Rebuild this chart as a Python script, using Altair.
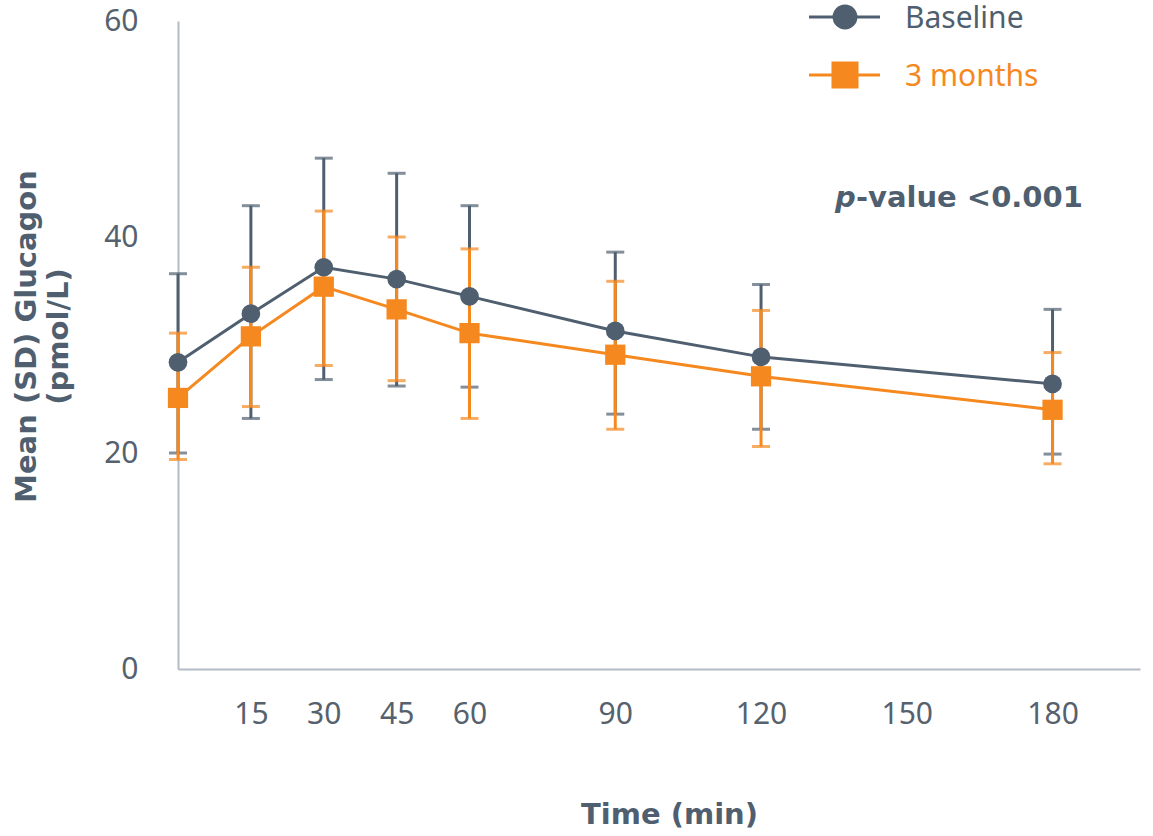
import altair as alt
import pandas as pd

# ---- data ----
time_min = [0, 15, 30, 45, 60, 90, 120, 180]
series_names = ["Baseline", "3 months"]
series_colors = ["#4f5f6f", "#f5891f"]

baseline_mean = [28.4, 32.9, 37.2, 36.1, 34.5, 31.3, 28.9, 26.4]
baseline_lo = [20.0, 23.2, 26.8, 26.2, 26.1, 23.6, 22.2, 19.9]
baseline_hi = [36.6, 42.9, 47.3, 45.9, 42.9, 38.6, 35.6, 33.3]

month3_mean = [25.1, 30.8, 35.4, 33.3, 31.1, 29.1, 27.1, 24.0]
month3_lo = [19.4, 24.3, 28.1, 26.7, 23.2, 22.2, 20.6, 19.0]
month3_hi = [31.1, 37.2, 42.4, 40.0, 38.9, 35.9, 33.2, 29.3]

x_ticks = [15, 30, 45, 60, 90, 120, 150, 180]
y_ticks = [0, 20, 40, 60]
x_title = "Time (min)"
y_title = ["Mean (SD) Glucagon", "(pmol/L)"]
p_italic = "p"
p_rest = "-value <0.001"

rows = []
for name, means, los, his in [
    ("Baseline", baseline_mean, baseline_lo, baseline_hi),
    ("3 months", month3_mean, month3_lo, month3_hi),
]:
    for t, m, lo, hi in zip(time_min, means, los, his):
        rows.append({"series": name, "time": t, "mean": m, "lo": lo, "hi": hi})
df = pd.DataFrame(rows)

legend_df = pd.DataFrame({"series": series_names})

LABEL_FONT = "Noto Sans"
BOLD_FONT = "DejaVu Sans"
TEXT_COLOR = "#4f5f6f"

x_scale = alt.Scale(domain=[0, 198], nice=False, zero=True)
y_scale = alt.Scale(domain=[0, 60], nice=False)
color_scale = alt.Scale(domain=series_names, range=series_colors)

x_axis = alt.Axis(
    values=x_ticks, title=x_title, labelPadding=30, titleX=491, titleY=145,
    titleBaseline="middle", titleAnchor="middle",
)
y_axis = alt.Axis(
    values=y_ticks, title=y_title, labelPadding=40, titleX=-152, titleY=315,
    titleAngle=270, titleBaseline="middle", titleAlign="center", titleLineHeight=32,
)

X = alt.X("time:Q", scale=x_scale, axis=x_axis)
C = alt.Color("series:N", scale=color_scale, legend=None)

base = alt.Chart(df)

def errbars(name):
    d = base.transform_filter(alt.datum.series == name)
    rule = d.mark_rule(strokeWidth=3).encode(
        x=X, y=alt.Y("lo:Q", scale=y_scale, axis=y_axis), y2="hi:Q", color=C
    )
    cap_lo = d.mark_tick(orient="horizontal", size=18, thickness=3).encode(
        x=X, y=alt.Y("lo:Q", scale=y_scale, axis=y_axis), color=C
    )
    cap_hi = d.mark_tick(orient="horizontal", size=18, thickness=3).encode(
        x=X, y=alt.Y("hi:Q", scale=y_scale, axis=y_axis), color=C
    )
    return rule + cap_lo + cap_hi

lines = base.mark_line(strokeWidth=3).encode(
    x=X, y=alt.Y("mean:Q", scale=y_scale, axis=y_axis), color=C, detail="series:N"
)

pts_base = base.transform_filter(alt.datum.series == "Baseline").mark_point(
    filled=True, opacity=1, shape="circle", size=350
).encode(x=X, y=alt.Y("mean:Q", scale=y_scale, axis=y_axis), color=C)

pts_m3 = base.transform_filter(alt.datum.series == "3 months").mark_point(
    filled=True, opacity=1, shape="square", size=410
).encode(x=X, y=alt.Y("mean:Q", scale=y_scale, axis=y_axis), color=C)

# ---- custom legend (top right) ----
def legend_item(name, shape, size, ypix):
    leg = alt.Chart(legend_df).transform_filter(alt.datum.series == name)
    line = leg.mark_rule(strokeWidth=3).encode(
        x=alt.value(631), x2=alt.value(702), y=alt.value(ypix), color=C
    )
    sym = leg.mark_point(filled=True, opacity=1, shape=shape, size=size).encode(
        x=alt.value(667), y=alt.value(ypix), color=C
    )
    txt = leg.mark_text(
        align="left", baseline="middle", font=LABEL_FONT, fontSize=30, dy=2
    ).encode(x=alt.value(727), y=alt.value(ypix), text="series:N", color=C)
    return line + sym + txt

leg_base = legend_item("Baseline", "circle", 620, -4)
leg_m3 = legend_item("3 months", "square", 730, 54)

# ---- p-value annotation ----
ann = alt.Chart(pd.DataFrame({"a": [p_italic], "b": [p_rest]}))
p1 = ann.mark_text(
    align="left", baseline="middle", font=BOLD_FONT, fontSize=29, fontWeight="bold",
    fontStyle="italic", color=TEXT_COLOR,
).encode(x=alt.value(657), y=alt.value(177), text="a:N")
p2 = ann.mark_text(
    align="left", baseline="middle", font=BOLD_FONT, fontSize=29, fontWeight="bold",
    color=TEXT_COLOR,
).encode(x=alt.value(678), y=alt.value(177), text="b:N")

chart = alt.layer(
    errbars("Baseline"), errbars("3 months"), lines, pts_base, pts_m3,
    leg_base, leg_m3, p1, p2,
).properties(
    width=962, height=648,
    autosize=alt.AutoSizeParams(type="none"),
    padding={"left": 178, "top": 21, "right": 13, "bottom": 167},
).configure_view(stroke=None).configure_axis(
    grid=False, ticks=False, domainColor="#b4bcc6", domainWidth=2,
    labelFont=LABEL_FONT, labelFontSize=30, labelColor="#56616d",
    titleFont=BOLD_FONT, titleFontSize=29, titleFontWeight="bold", titleColor=TEXT_COLOR,
)

chart.save("out.html", embed_options={"renderer": "svg", "actions": False})
